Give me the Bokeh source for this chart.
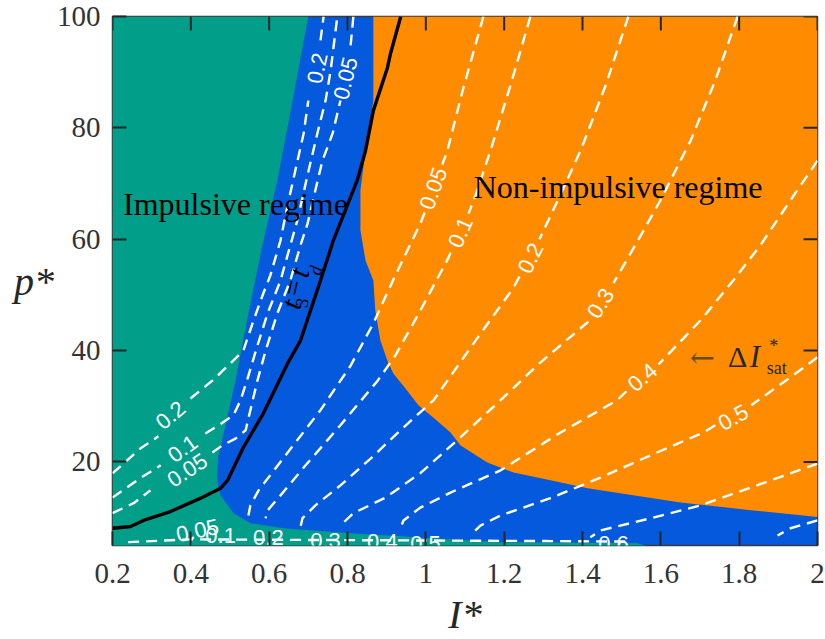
import numpy as np
from bokeh.plotting import figure
from bokeh.models import FixedTicker, CustomJSTickFormatter, Range1d
from bokeh.core.properties import value
from bokeh.embed import file_html
from bokeh.resources import INLINE

nan = float("nan")

# ---------------- axes ----------------
x_range = (0.2, 2.0)
y_range = (5, 100)
x_ticks = [0.2, 0.4, 0.6, 0.8, 1.0, 1.2, 1.4, 1.6, 1.8, 2.0]
y_ticks = [20, 40, 60, 80, 100]

TEAL = "#019E8A"
BLUE = "#0459DC"
ORANGE = "#FF8C00"

# ---------------- regime regions ----------------
teal_I = [0.2, 0.700, 0.660, 0.621, 0.580, 0.547, 0.514, 0.490, 0.470, 0.467, 0.470, 0.476,
          0.509, 0.552, 0.637, 0.808, 1.019, 1.191, 1.540, 1.561, 1.561, 0.2]
teal_p = [100, 100, 85, 70.6, 58, 46.7, 34.6, 27, 21, 17.5, 15.4, 14.0,
          10.8, 9.0, 8.1, 7.2, 6.3, 5.6, 5.4, 5.0, 4.0, 4.0]

orange_I = [0.866, 0.866, 0.846, 0.833, 0.833, 0.846, 0.866, 0.871, 0.884, 0.902, 0.917, 0.948,
            0.981, 1.019, 1.063, 1.088, 1.157, 1.224, 1.318, 1.413, 1.650, 1.836, 2.0, 2.0]
orange_p = [100, 84.9, 75.9, 68.8, 61.6, 56.2, 52.6, 47.2, 41.8, 38.2, 35.9, 33.2,
            30.2, 28.0, 25.3, 23.0, 19.9, 18.1, 16.7, 15.3, 12.7, 11.3, 10.1, 100]

# ---------------- t3 = td boundary ----------------
td_I = [0.2, 0.246, 0.279, 0.348, 0.425, 0.476, 0.494, 0.534, 0.585, 0.647, 0.680, 0.731,
        0.764, 0.825, 0.846, 0.866, 0.902, 0.910, 0.936]
td_p = [8.1, 8.4, 9.5, 11.1, 13.5, 15.3, 16.7, 22.6, 28.7, 37.7, 41.8, 52.6,
        59.8, 70.6, 75.9, 83.1, 90.8, 93.4, 100]

# ---------------- Delta I*_sat contours (nan = gap for a label) ----------------
c005_I = [1.147, 1.094, 1.055, 1.042, nan, 0.997, 0.986, 0.922, 0.866, 0.808, 0.731, 0.642, 0.573, 0.552, 0.547]
c005_p = [100, 86.7, 75.9, 73.4, nan, 64.8, 62.8, 53.5, 44.9, 37.3, 29.3, 21.2, 14.9, 12.2, 10.4]

c01_I = [1.267, 1.216, 1.165, 1.127, 1.109, nan, 1.063, 1.058, 0.986, 0.922, 0.877, 0.782, 0.693, 0.629, 0.596, 0.591]
c01_p = [100, 87.6, 75.9, 67.9, 64.6, nan, 57.6, 56.7, 47.2, 39.1, 34.6, 26.6, 19.4, 14.0, 11.3, 9.9]

c02_I = [1.517, 1.459, 1.395, 1.331, 1.290, nan, 1.239, 1.224, 1.127, 1.020, 0.935, 0.859, 0.782, 0.718, 0.685, 0.680]
c02_p = [100, 87.6, 75.9, 66.1, 60.0, nan, 53.3, 51.3, 41.8, 31.1, 25.7, 20.6, 15.8, 12.2, 9.9, 8.3]

c03_I = [1.796, 1.739, 1.676, 1.599, 1.553, 1.479, nan, 1.415, 1.293, 1.191, 1.088, 0.986, 0.897, 0.815, 0.782]
c03_p = [100, 88.5, 77.7, 67.0, 61.2, 52.1, nan, 45.2, 37.9, 31.1, 24.4, 18.0, 13.6, 10.8, 8.6]

c04_I = [2.0, 1.931, 1.854, 1.785, 1.701, 1.594, nan, 1.512, 1.489, 1.344, 1.191, 1.063, 0.986, 0.943, 0.935]
c04_p = [74.1, 67.0, 58.9, 52.6, 45.4, 37.5, nan, 32.7, 31.1, 25.3, 18.5, 14.5, 11.8, 9.5, 8.1]

c05_I = [2.0, 1.931, 1.867, 1.831, nan, 1.739, 1.709, 1.574, 1.446, 1.318, 1.191, 1.140, 1.119]
c05_p = [38.8, 35.2, 32.0, 30.2, nan, 26.6, 25.3, 21.2, 17.2, 13.5, 10.4, 8.6, 7.2]

c06_I = [2.0, 1.829, 1.701, 1.574, 1.446, 1.420]
c06_p = [19.7, 15.4, 12.2, 9.9, 7.7, 6.5]

c07_I = [2.0, 1.931, 1.898]
c07_p = [9.5, 8.1, 6.8]

# steep contours along the impulsive boundary
s02_I = [0.2, 0.271, 0.317, nan, 0.399, 0.455, 0.501, 0.534, 0.560, 0.583, 0.603, 0.629, 0.647,
         0.667, 0.688, 0.700, nan, 0.731, 0.739]
s02_p = [17.95, 22.4, 24.6, nan, 31.4, 34.6, 37.7, 40.0, 45.4, 49.9, 53.5, 59.8, 66.1,
         72.4, 79.0, 84.9, nan, 95.7, 100]

s01_I = [0.2, 0.271, 0.323, nan, 0.437, 0.476, 0.509, 0.527, 0.545, 0.570, 0.596, 0.629, 0.654,
         0.672, 0.698, 0.723, 0.744, 0.757, 0.774]
s01_p = [13.6, 17.1, 19.4, nan, 25.1, 26.8, 28.4, 31.1, 35.0, 40.9, 46.7, 52.6, 58.9,
         63.4, 71.5, 79.0, 84.9, 90.3, 100]

s005_I = [0.2, 0.254, 0.297, nan, 0.455, 0.481, 0.514, 0.540, 0.552, 0.570, 0.591, 0.621, 0.654,
          0.680, 0.698, 0.718, 0.736, 0.762, 0.782, nan, 0.808, 0.815]
s005_p = [10.8, 12.6, 14.9, nan, 21.7, 23.0, 24.2, 25.7, 29.3, 34.6, 40.0, 46.7, 52.6,
          58.9, 62.8, 68.8, 74.1, 79.0, 84.9, nan, 94.8, 100]

bot_I = [0.24, 0.40, 0.70, 1.00, 1.30, 1.52]
bot_p = [5.6, 6.1, 6.0, 5.9, 5.8, 5.7]

# contour labels
lab_text = ["0.05", "0.1", "0.2", "0.3", "0.4", "0.5", "0.2", "0.05", "0.2", "0.1", "0.05"]
lab_I = [1.019, 1.088, 1.267, 1.446, 1.553, 1.785, 0.723, 0.795, 0.348, 0.379, 0.391]
lab_p = [69.1, 61.2, 56.6, 48.5, 35.2, 28.0, 90.7, 88.9, 28.4, 22.4, 18.5]
lab_ang = [70, 66, 63, 57, 41, 29, 78, 76, 40, 36, 33]

blab_text = ["0.05", "0.1", "0.2", "0.3", "0.4", "0.5", "0.6"]
blab_I = [0.417, 0.476, 0.598, 0.744, 0.889, 0.999, 1.479]
blab_p = [7.7, 6.8, 6.5, 5.9, 5.7, 5.4, 5.4]
blab_ang = [12, 0, 0, 0, 0, 0, 0]

# ---------------- figure ----------------
p = figure(width=825, height=639, x_range=Range1d(*x_range), y_range=Range1d(*y_range),
           output_backend="svg", toolbar_location=None,
           min_border_left=112, min_border_right=8, min_border_top=16, min_border_bottom=94,
           background_fill_color=BLUE, border_fill_color="white",
           outline_line_color="#3a3a3a", outline_line_width=1.5)
p.grid.visible = False

p.patch(teal_I, teal_p, fill_color=TEAL, line_color=None)
p.patch(orange_I, orange_p, fill_color=ORANGE, line_color=None)

for xs, ys in [(c005_I, c005_p), (c01_I, c01_p), (c02_I, c02_p), (c03_I, c03_p),
               (c04_I, c04_p), (c05_I, c05_p), (c06_I, c06_p), (c07_I, c07_p),
               (s02_I, s02_p), (s01_I, s01_p), (s005_I, s005_p), (bot_I, bot_p)]:
    p.line(np.array(xs, dtype=float), np.array(ys, dtype=float), line_color="white",
           line_width=2.4, line_dash="11 7")

p.line(td_I, td_p, line_color="black", line_width=3.4)

p.text(x=lab_I, y=lab_p, text=lab_text, angle=lab_ang, angle_units="deg",
       text_color="white", text_font=value("Liberation Sans"), text_font_size="22px",
       text_align="center", text_baseline="middle")
p.text(x=blab_I, y=blab_p, text=blab_text, angle=blab_ang, angle_units="deg",
       text_color="white", text_font=value("Liberation Sans"), text_font_size="22px",
       text_align="center", text_baseline="middle")

# regime names
p.text(x=[0.514, 1.491], y=[66.4, 69.3], text=["Impulsive regime", "Non-impulsive regime"],
       text_color="black", text_font=value("Liberation Serif"), text_font_size="32px",
       text_align="center", text_baseline="alphabetic")

# t3 = td
p.text(x=[0.655, 0.675], y=[48.3, 54.0], text=["t", "t"], angle=[77, 77], angle_units="deg",
       text_color="black", text_font=value("Liberation Serif"), text_font_style="italic",
       text_font_size="30px", text_align="center", text_baseline="middle")
p.text(x=[0.660], y=[51.3], text=["="], angle=[77], angle_units="deg",
       text_color="black", text_font=value("Liberation Serif"), text_font_size="28px",
       text_align="center", text_baseline="middle")
p.text(x=[0.683], y=[48.6], text=["3"], angle=[77], angle_units="deg",
       text_color="black", text_font=value("Liberation Serif"), text_font_size="18px",
       text_align="center", text_baseline="middle")
p.text(x=[0.718], y=[54.4], text=["d"], angle=[77], angle_units="deg",
       text_color="black", text_font=value("Liberation Serif"), text_font_style="italic",
       text_font_size="18px", text_align="center", text_baseline="middle")

# <- Delta I*_sat
p.text(x=[1.706], y=[38.8], text=["\u2190"], text_color="#6b4a14",
       text_font=value("DejaVu Serif"), text_font_size="30px",
       text_align="center", text_baseline="middle")
p.text(x=[1.796], y=[38.9], text=["\u0394"], text_color="#262626",
       text_font=value("Liberation Serif"), text_font_size="30px",
       text_align="center", text_baseline="middle")
p.text(x=[1.840], y=[38.9], text=["I"], text_color="#262626",
       text_font=value("Liberation Serif"), text_font_style="italic", text_font_size="31px",
       text_align="center", text_baseline="middle")
p.text(x=[1.888], y=[40.8], text=["*"], text_color="#262626",
       text_font=value("Liberation Serif"), text_font_size="18px",
       text_align="center", text_baseline="middle")
p.text(x=[1.896], y=[36.9], text=["sat"], text_color="#262626",
       text_font=value("Liberation Serif"), text_font_size="18px",
       text_align="center", text_baseline="middle")

# inward ticks on the top and right edges of the box (from the tick lists)
tick_len_y = 14 * (y_range[1] - y_range[0]) / 529.0
tick_len_x = 14 * (x_range[1] - x_range[0]) / 705.0
p.segment(x0=x_ticks, y0=[y_range[1]] * len(x_ticks), x1=x_ticks,
          y1=[y_range[1] - tick_len_y] * len(x_ticks), line_color="#262626", line_width=2)
p.segment(x0=[x_range[1]] * len(y_ticks), y0=y_ticks, x1=[x_range[1] - tick_len_x] * len(y_ticks),
          y1=y_ticks, line_color="#262626", line_width=2)

# ---------------- axes styling ----------------
fmt = CustomJSTickFormatter(code="return String(Math.round(tick*10)/10);")
xa = p.xaxis[0]
ya = p.yaxis[0]
xa.ticker = FixedTicker(ticks=x_ticks)
xa.formatter = fmt
ya.ticker = FixedTicker(ticks=y_ticks)
for ax in (xa, ya):
    ax.major_tick_in = 14
    ax.major_tick_out = 0
    ax.minor_tick_line_color = None
    ax.axis_line_color = None
    ax.major_tick_line_color = "#262626"
    ax.major_tick_line_width = 2
    ax.major_label_text_font = "Liberation Serif"
    ax.major_label_text_font_size = "29px"
    ax.major_label_text_color = "#333333"
    ax.axis_label_text_font = "Liberation Serif"
    ax.axis_label_text_font_style = "italic"
    ax.axis_label_text_font_size = "40px"
    ax.axis_label_text_color = "#262626"
    ax.axis_label_standoff = 0
xa.major_label_standoff = 18
xa.axis_label_standoff = 6
ya.major_label_standoff = 12
xa.axis_label = "I*"
ya.axis_label = "p*"
try:
    ya.axis_label_orientation = "horizontal"
except Exception:
    pass

open("out.html", "w").write(file_html(p, INLINE))
